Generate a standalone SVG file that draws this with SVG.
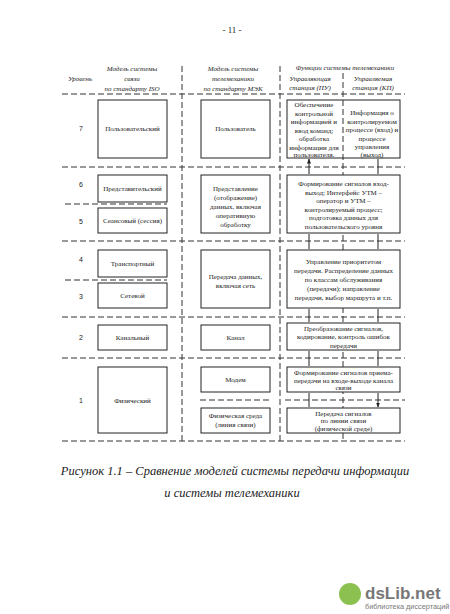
<svg xmlns="http://www.w3.org/2000/svg" width="450" height="614" viewBox="0 0 450 614">
<style>
.bg{fill:#fff}
.box{fill:#fff;stroke:#222;stroke-width:1}
.dash{fill:none;stroke:#333;stroke-width:1;stroke-dasharray:6 3}
.t{font-family:"Liberation Serif","DejaVu Serif",serif;font-size:7px;fill:#222;text-anchor:middle}
.h{font-family:"Liberation Serif","DejaVu Serif",serif;font-size:7px;font-style:italic;fill:#222;text-anchor:middle}
.n{font-family:"Liberation Sans","DejaVu Sans",sans-serif;font-size:7px;fill:#222;text-anchor:middle}
.cap{font-family:"Liberation Serif","DejaVu Serif",serif;font-size:12.5px;font-style:italic;fill:#222;text-anchor:middle}
.arr{stroke:#222;stroke-width:1;fill:none;marker-start:url(#ah);marker-end:url(#ah)}
</style>
<defs>
<marker id="ah" viewBox="0 0 10 10" refX="9" refY="5" markerWidth="5" markerHeight="5" orient="auto-start-reverse" markerUnits="userSpaceOnUse">
<path d="M0,1 L10,5 L0,9 z" fill="#222"/>
</marker>
</defs>
<rect class="bg" x="0" y="0" width="450" height="614"/>
<text x="232" y="33" class="t" style="font-size:9px">- 11 -</text>

<g id="header">
<text x="345" y="70" class="h">Функции системы телемеханики</text>
<text x="80" y="81" class="h">Уровень</text>
<text x="132" y="71" class="h">Модель системы</text>
<text x="132" y="81" class="h">связи</text>
<text x="132" y="91" class="h">по стандарту ISO</text>
<text x="233" y="71" class="h">Модель системы</text>
<text x="233" y="81" class="h">телемеханики</text>
<text x="233" y="91" class="h">по стандарту МЭК</text>
<text x="310" y="81" class="h">Управляющая</text>
<text x="310" y="90" class="h">станция (ПУ)</text>
<text x="373" y="81" class="h">Управляемая</text>
<text x="373" y="90" class="h">станция (КП)</text>
</g>

<g id="grid">
<path class="dash" d="M182,66 V442 M280,66 V442 M343,73 V440"/>
<path class="dash" d="M62,94 H405 M62,167 H405 M62,241 H405 M62,317 H405 M62,358 H405 M62,441 H405"/>
<path class="dash" d="M65,204 H167 M65,280 H167 M200,400 H272 M285,400 H405"/>
</g>

<g id="levels">
<text x="81" y="131" class="n">7</text>
<text x="81" y="187" class="n">6</text>
<text x="81" y="224" class="n">5</text>
<text x="81" y="262" class="n">4</text>
<text x="81" y="299" class="n">3</text>
<text x="81" y="340" class="n">2</text>
<text x="81" y="403" class="n">1</text>
</g>

<g id="iso7"><rect class="box" x="98" y="100" width="69" height="58"/><text x="132.5" y="131" class="t">Пользовательский</text></g>
<g id="iso6"><rect class="box" x="98" y="175" width="69" height="27"/><text x="132.5" y="191" class="t">Представительский</text></g>
<g id="iso5"><rect class="box" x="98" y="208" width="69" height="25"/><text x="132.5" y="223" class="t">Сеансовый (сессия)</text></g>
<g id="iso4"><rect class="box" x="98" y="250" width="69" height="27"/><text x="132.5" y="266" class="t">Транспортный</text></g>
<g id="iso3"><rect class="box" x="98" y="283" width="69" height="25"/><text x="132.5" y="298" class="t">Сетевой</text></g>
<g id="iso2"><rect class="box" x="98" y="325" width="69" height="25"/><text x="132.5" y="340" class="t">Канальный</text></g>
<g id="iso1"><rect class="box" x="98" y="367" width="69" height="66"/><text x="132.5" y="403" class="t">Физический</text></g>

<g id="mek7"><rect class="box" x="201" y="100" width="69" height="58"/><text x="235.5" y="131" class="t">Пользователь</text></g>
<g id="mek65"><rect class="box" x="201" y="175" width="69" height="58"/>
<text x="235.5" y="191" class="t">Представление</text>
<text x="235.5" y="200" class="t">(отображение)</text>
<text x="235.5" y="209" class="t">данных, включая</text>
<text x="235.5" y="218" class="t">оперативную</text>
<text x="235.5" y="227" class="t">обработку</text></g>
<g id="mek43"><rect class="box" x="201" y="250" width="69" height="58"/>
<text x="235.5" y="279" class="t">Передача данных,</text>
<text x="235.5" y="288" class="t">включая сеть</text></g>
<g id="mek2"><rect class="box" x="201" y="325" width="69" height="25"/><text x="235.5" y="340" class="t">Канал</text></g>
<g id="mek1a"><rect class="box" x="201" y="367" width="69" height="25"/><text x="235.5" y="382" class="t">Модем</text></g>
<g id="mek1b"><rect class="box" x="201" y="408" width="69" height="25"/>
<text x="235.5" y="418" class="t">Физическая среда</text>
<text x="235.5" y="427" class="t">(линия связи)</text></g>

<g id="f7"><rect class="box" x="287" y="100" width="113" height="58"/>
<path class="dash" d="M343,100 V158"/>
<text x="314" y="107" class="t">Обеспечение</text>
<text x="314" y="115.5" class="t">контрольной</text>
<text x="314" y="124" class="t">информацией  и</text>
<text x="314" y="132.5" class="t">ввод команд;</text>
<text x="314" y="141" class="t">обработка</text>
<text x="314" y="149.5" class="t">информации для</text>
<text x="314" y="157" class="t">пользователя.</text>
<text x="372" y="115" class="t">Информация о</text>
<text x="372" y="123.5" class="t">контролируемом</text>
<text x="372" y="132" class="t">процессе (вход) и</text>
<text x="372" y="140.5" class="t">процессе</text>
<text x="372" y="149" class="t">управления</text>
<text x="372" y="156.5" class="t">(выход)</text></g>
<g id="f65"><rect class="box" x="287" y="175" width="113" height="58"/>
<text x="343.5" y="186" class="t">Формирование сигналов вход-</text>
<text x="343.5" y="194.5" class="t">выход; Интерфейс УТМ –</text>
<text x="343.5" y="203" class="t">оператор и УТМ –</text>
<text x="343.5" y="211.5" class="t">контролируемый процесс;</text>
<text x="343.5" y="220" class="t">подготовка данных для</text>
<text x="343.5" y="228.5" class="t">пользовательского уровня</text></g>
<g id="f43"><rect class="box" x="287" y="250" width="113" height="58"/>
<text x="343.5" y="264" class="t">Управление приоритетом</text>
<text x="343.5" y="273" class="t">передачи. Распределение данных</text>
<text x="343.5" y="282" class="t">по классам обслуживания</text>
<text x="343.5" y="291" class="t">(передачи); направление</text>
<text x="343.5" y="300" class="t">передачи, выбор маршрута и т.п.</text></g>
<g id="f2"><rect class="box" x="287" y="323" width="113" height="27"/>
<text x="343.5" y="330.5" class="t">Преобразование сигналов,</text>
<text x="343.5" y="339" class="t">кодирование, контроль ошибок</text>
<text x="343.5" y="347.5" class="t">передачи</text></g>
<g id="f1a"><rect class="box" x="287" y="367" width="113" height="25"/>
<text x="343.5" y="375" class="t">Формирование сигналов приема-</text>
<text x="343.5" y="382.5" class="t">передачи на входе-выходе канала</text>
<text x="343.5" y="390" class="t">связи</text></g>
<g id="f1b"><rect class="box" x="287" y="408" width="113" height="25"/>
<text x="343.5" y="415.5" class="t">Передача сигналов</text>
<text x="343.5" y="423" class="t">по линии связи</text>
<text x="343.5" y="430.5" class="t">(физической среде)</text></g>

<g id="connectors">
<path class="arr" d="M309,159 V174 M378,159 V174 M309,234 V249 M378,234 V249 M309,309 V322 M378,309 V322 M309,351 V366 M378,351 V366 M309,393 V407 M378,393 V407"/>
</g>

<g id="caption">
<text x="235" y="475" class="cap">Рисунок 1.1 – Сравнение моделей системы передачи информации</text>
<text x="232" y="497" class="cap">и системы телемеханики</text>
</g>

<g id="watermark">
<circle cx="350" cy="594" r="11" fill="#8cc152"/>
<text x="365" y="599" style="font-family:'Liberation Sans',sans-serif;font-size:17px;font-weight:bold;fill:#777">dsLib.net</text>
<text x="365" y="609" style="font-family:'Liberation Sans',sans-serif;font-size:7.3px;fill:#777">библиотека диссертаций</text>
</g>
</svg>
